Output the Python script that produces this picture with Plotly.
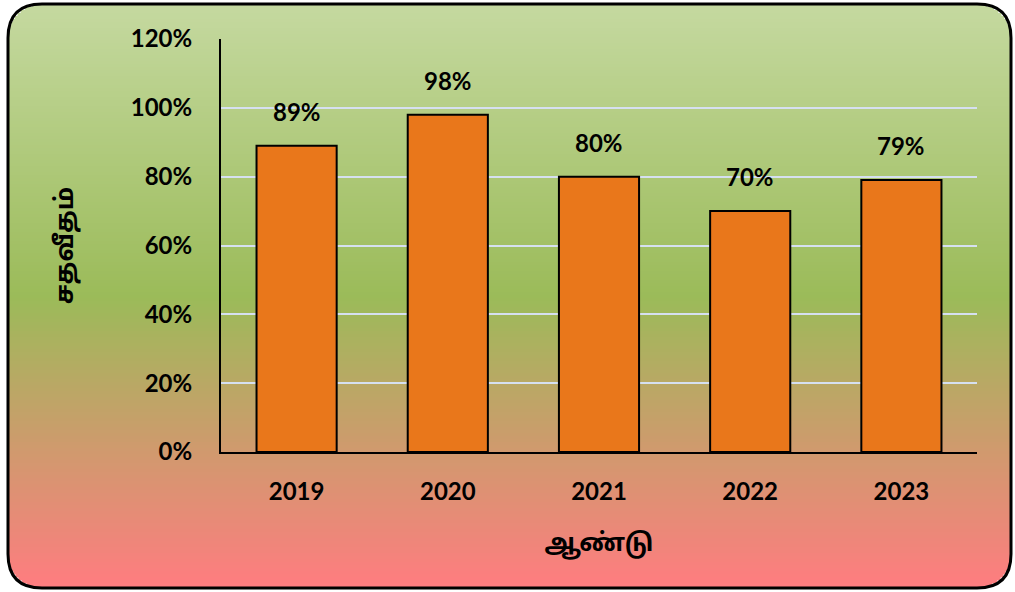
"""Yearly percentage bar chart (Tamil labels)."""

import plotly.graph_objects as go

years = ["2019", "2020", "2021", "2022", "2023"]
percent = [89, 98, 80, 70, 79]
y_ticks = [0, 20, 40, 60, 80, 100, 120]
y_tick_labels = ["0%", "20%", "40%", "60%", "80%", "100%", "120%"]

W, H = 1015, 592
FONT = "Lato, 'Noto Sans Tamil', 'Noto Sans', sans-serif"


def mix(c1, c2, t):
    return tuple(round(a + (b - a) * t) for a, b in zip(c1, c2))


def bg_color(t):
    # t = 0 at top, 1 at bottom
    top, mid, bot = (197, 217, 160), (155, 187, 89), (255, 124, 128)
    if t < 0.5:
        c = mix(top, mid, t / 0.5)
    else:
        c = mix(mid, bot, (t - 0.5) / 0.5)
    return "rgb(%d,%d,%d)" % c


# rounded background panel, built from thin horizontal strips
x0, x1, y0, y1, r = 8, 1011, 4, 588, 34
shapes = []
step = 3
y = y0
while y < y1:
    ya, yb = y, min(y + step, y1)
    ym = (ya + yb) / 2
    d = min(ym - y0, y1 - ym)
    inset = 0
    if d < r:
        inset = r - (r * r - (r - d) ** 2) ** 0.5
    shapes.append(dict(
        type="rect", xref="paper", yref="paper", layer="below",
        x0=(x0 + inset) / W, x1=(x1 - inset) / W,
        y0=1 - (yb + 0.6) / H, y1=1 - ya / H,
        fillcolor=bg_color((ym - y0) / (y1 - y0)), line=dict(width=0),
    ))
    y += step

# border with rounded corners
def px(x):
    return x / W

def py(y):
    return 1 - y / H

border = (
    f"M {px(x0 + r)},{py(y0)} L {px(x1 - r)},{py(y0)} "
    f"Q {px(x1)},{py(y0)} {px(x1)},{py(y0 + r)} L {px(x1)},{py(y1 - r)} "
    f"Q {px(x1)},{py(y1)} {px(x1 - r)},{py(y1)} L {px(x0 + r)},{py(y1)} "
    f"Q {px(x0)},{py(y1)} {px(x0)},{py(y1 - r)} L {px(x0)},{py(y0 + r)} "
    f"Q {px(x0)},{py(y0)} {px(x0 + r)},{py(y0)} Z"
)
shapes.append(dict(type="path", xref="paper", yref="paper", path=border,
                   line=dict(color="black", width=3)))

fig = go.Figure(go.Bar(
    x=years,
    y=percent,
    marker=dict(color="#E9771B", line=dict(color="black", width=2)),
))

# value labels floating above the bars (x given as category index,
# numeric-looking strings would otherwise be read as positions)
for i, v in enumerate(percent):
    fig.add_annotation(
        x=i, y=v, text=f"{v}%", showarrow=False,
        yanchor="bottom", yshift=18,
        font=dict(family=FONT, size=24, color="black", weight="bold"),
    )

fig.update_layout(
    width=W,
    height=H,
    margin=dict(l=0, r=0, t=0, b=0, autoexpand=False),
    paper_bgcolor="white",
    plot_bgcolor="rgba(0,0,0,0)",
    shapes=shapes,
    bargap=0.47,
    showlegend=False,
    font=dict(family=FONT, color="black"),
    xaxis=dict(
        type="category",
        domain=[221 / W, 977 / W],
        automargin=False,
        showline=True, linecolor="black", linewidth=2,
        ticks="", ticklabelstandoff=17,
        tickfont=dict(size=24, weight="bold"),
        title=dict(text="ஆண்டு", font=dict(size=25, weight="bold"), standoff=30),
    ),
    yaxis=dict(
        domain=[1 - 452 / H, 1 - 39 / H],
        automargin=False,
        range=[0, 120],
        tickvals=y_ticks, ticktext=y_tick_labels,
        showline=True, linecolor="black", linewidth=2,
        gridcolor="#D6E0F0", gridwidth=2,
        ticks="", ticklabelstandoff=22,
        tickfont=dict(size=24, weight="bold"),
        zeroline=False,
        title=dict(text="சதவீதம்", font=dict(size=25, weight="bold"), standoff=50),
    ),
)

fig.write_html(
    "out.html",
    config={"displayModeBar": False},
    post_script="document.body.style.margin='0';document.body.style.overflow='hidden';",
)
